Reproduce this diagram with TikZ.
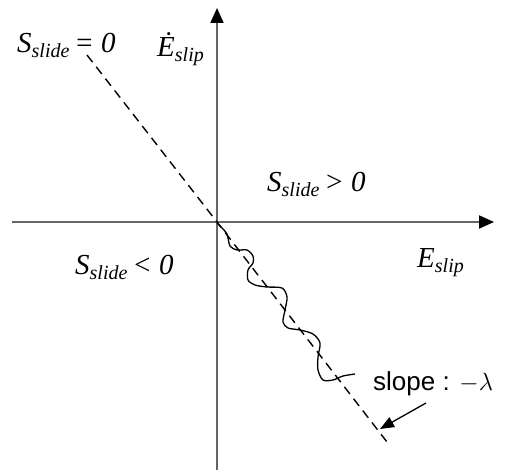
\documentclass[tikz,border=0pt]{standalone}
\usepackage{fontspec}
\setmainfont{Liberation Serif}
\newfontfamily\arialfont{Liberation Sans}
\usetikzlibrary{arrows.meta}
\newcommand{\subtxt}[1]{\raisebox{-0.35ex}{\fontsize{20}{20}\selectfont\textit{#1}}}
\newcommand{\slabel}[1]{\textit{S}\subtxt{slide}\,\textit{#1}}
\begin{document}
\begin{tikzpicture}[x=1pt,y=-1pt,
    axis/.style={draw=black!60,line width=2pt,-{Triangle[length=15pt,width=13pt,fill=black,color=black]}},
    txt/.style={font=\fontsize{29}{29}\selectfont,inner sep=0pt,anchor=base west}]
    \useasboundingbox (0,0) rectangle (506,470);
    % axes
    \coordinate (o) at (217,222);
    \draw[axis] (217,470) -- (217,8);
    \draw[axis] (12,222) -- (494,222);
    % sliding surface
    \coordinate (top) at (87,55);
    \coordinate (bot) at (387,442);
    \draw[dashed,dash pattern=on 9pt off 6pt,line width=1.4pt] (top) -- (o) -- (bot);
    % trajectory
    \draw[line width=1.3pt] plot[smooth,tension=0.5] coordinates {(217,223) (222,228) (227,234)
        (230,246) (237,250) (247,250) (253,256) (253,263) (248,270) (248,280)
        (255,285) (267,287) (282,288) (287,297) (285,310) (283,322) (288,328)
        (300,330) (313,334) (320,343) (318,357) (318,370) (323,380) (333,380)
        (343,376) (355,374)};
    % labels
    \node[txt] (szero) at (17,53) {\slabel{= 0}};
    \node[txt] (edot) at (157,57) {\textit{\.E}\subtxt{slip}};
    \node[txt] (spos) at (267,192) {\slabel{> 0}};
    \node[txt] (sneg) at (75,275) {\slabel{< 0}};
    \node[txt] (eslip) at (417,268) {\textit{E}\subtxt{slip}};
    \node[txt,font=\arialfont\fontsize{26}{26}\selectfont] (slope) at (373,390) {slope : $-\lambda$};
    \coordinate (tip) at (380,429);
    \draw[line width=1.3pt,-{Triangle[length=14pt,width=11pt]}] (426,403) -- (tip);
\end{tikzpicture}
\end{document}
